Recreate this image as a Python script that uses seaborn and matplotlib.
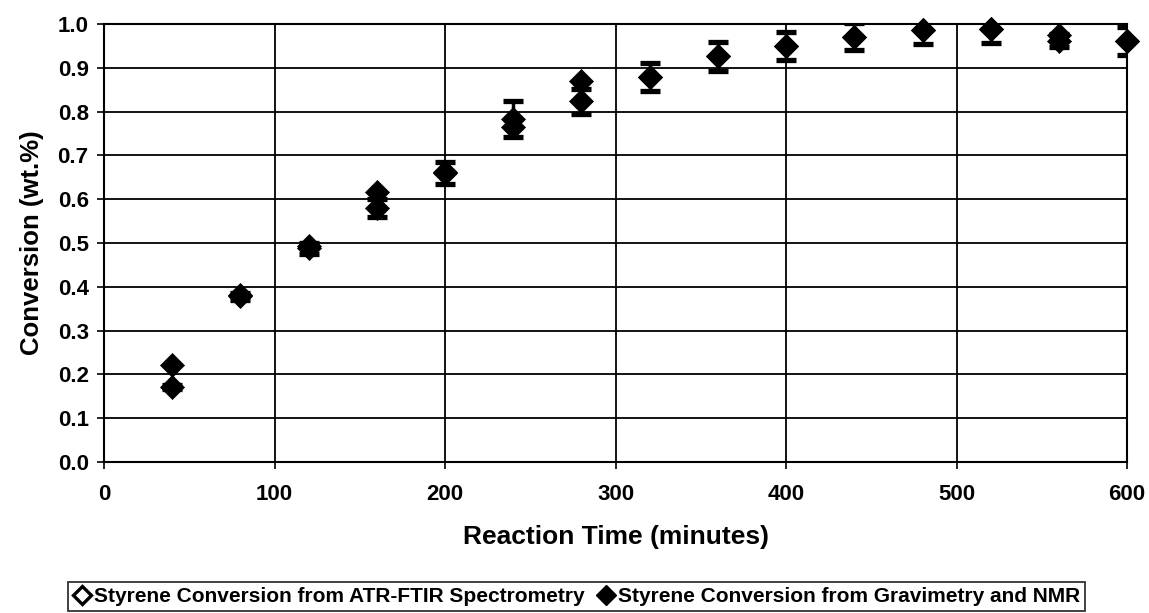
import matplotlib
matplotlib.use("Agg")
import matplotlib.pyplot as plt
import seaborn as sns
import pandas as pd
import numpy as np
from matplotlib.lines import Line2D

# ---- data ----
time_min = [40, 80, 120, 160, 200, 240, 280, 320, 360, 400, 440, 480, 520, 560, 600]
atr_ftir = [0.222, 0.382, 0.492, 0.617, 0.663, 0.765, 0.869, 0.878, 0.926, 0.950,
            0.971, 0.985, 0.988, 0.975, 0.962]
grav_nmr = [0.171, 0.378, 0.488, 0.580, 0.660, 0.783, 0.823, 0.878, 0.926, 0.950,
            0.971, 0.985, 0.988, 0.962, 0.962]
grav_err = [0.005, 0.008, 0.013, 0.021, 0.025, 0.041, 0.029, 0.032, 0.033, 0.032,
            0.031, 0.032, 0.031, 0.015, 0.032]
x_ticks = [0, 100, 200, 300, 400, 500, 600]
y_ticks = [0.0, 0.1, 0.2, 0.3, 0.4, 0.5, 0.6, 0.7, 0.8, 0.9, 1.0]
label_atr = "Styrene Conversion from ATR-FTIR Spectrometry"
label_grav = "Styrene Conversion from Gravimetry and NMR"

sns.set_theme(style="white")
plt.rcParams['font.family'] = ['Liberation Sans', 'DejaVu Sans']
plt.rcParams['font.weight'] = 'bold'
for k in ['text.color', 'axes.labelcolor', 'xtick.color', 'ytick.color']:
    plt.rcParams[k] = 'black'

fig = plt.figure(figsize=(11.49, 6.13), dpi=100)
ax = fig.add_axes([0.0905, 0.2463, 0.8905, 0.7147])

df_atr = pd.DataFrame({"t": time_min, "c": atr_ftir})
df_grav = pd.DataFrame({"t": time_min, "c": grav_nmr})

# error bars (gravimetry)
ax.errorbar(time_min, grav_nmr, yerr=grav_err, fmt='none', ecolor='black',
            elinewidth=2.5, capsize=7, capthick=3.8, zorder=3, clip_on=True)

sns.scatterplot(data=df_grav, x="t", y="c", ax=ax, marker='D', s=150,
                color='black', edgecolor='black', linewidth=0.5, zorder=4,
                legend=False, clip_on=False)
sns.scatterplot(data=df_atr, x="t", y="c", ax=ax, marker='D', s=150,
                facecolor='black', edgecolor='black', linewidth=0.5, zorder=5,
                legend=False, clip_on=False)

ax.set_xlim(0, 600)
ax.set_ylim(0, 1.0)
ax.set_xticks(x_ticks)
ax.set_yticks(y_ticks)
ax.set_xticklabels([str(v) for v in x_ticks], fontsize=16, fontweight='bold')
ax.set_yticklabels([f"{v:.1f}" for v in y_ticks], fontsize=16, fontweight='bold')
ax.grid(True, color='black', linewidth=1.3)
ax.set_axisbelow(True)
for sp in ax.spines.values():
    sp.set_color('black')
    sp.set_linewidth(1.5)
ax.tick_params(axis='both', direction='out', length=5, width=1.2, colors='black',
               bottom=True, left=True)
ax.tick_params(axis='x', pad=11)
ax.tick_params(axis='y', pad=6)

ax.set_xlabel("Reaction Time (minutes)", fontsize=19, fontweight='bold', labelpad=14)
ax.set_ylabel("Conversion (wt.%)", fontsize=18.5, fontweight='bold', labelpad=10)

handles = [
    Line2D([], [], linestyle='none', marker='D', markersize=9, markerfacecolor='white',
           markeredgecolor='black', markeredgewidth=2.4),
    Line2D([], [], linestyle='none', marker='D', markersize=10, markerfacecolor='black',
           markeredgecolor='black'),
]
leg = fig.legend(handles, [label_atr, label_grav], ncol=2, loc='center',
                 bbox_to_anchor=(0.502, 0.027), frameon=True, fancybox=False,
                 prop={'weight': 'bold', 'size': 15}, handlelength=0.8,
                 handletextpad=0.2, columnspacing=0.6, borderpad=0.25,
                 borderaxespad=0)
leg.get_frame().set_edgecolor('black')
leg.get_frame().set_linewidth(1.3)

fig.savefig("out.png", dpi=100)
